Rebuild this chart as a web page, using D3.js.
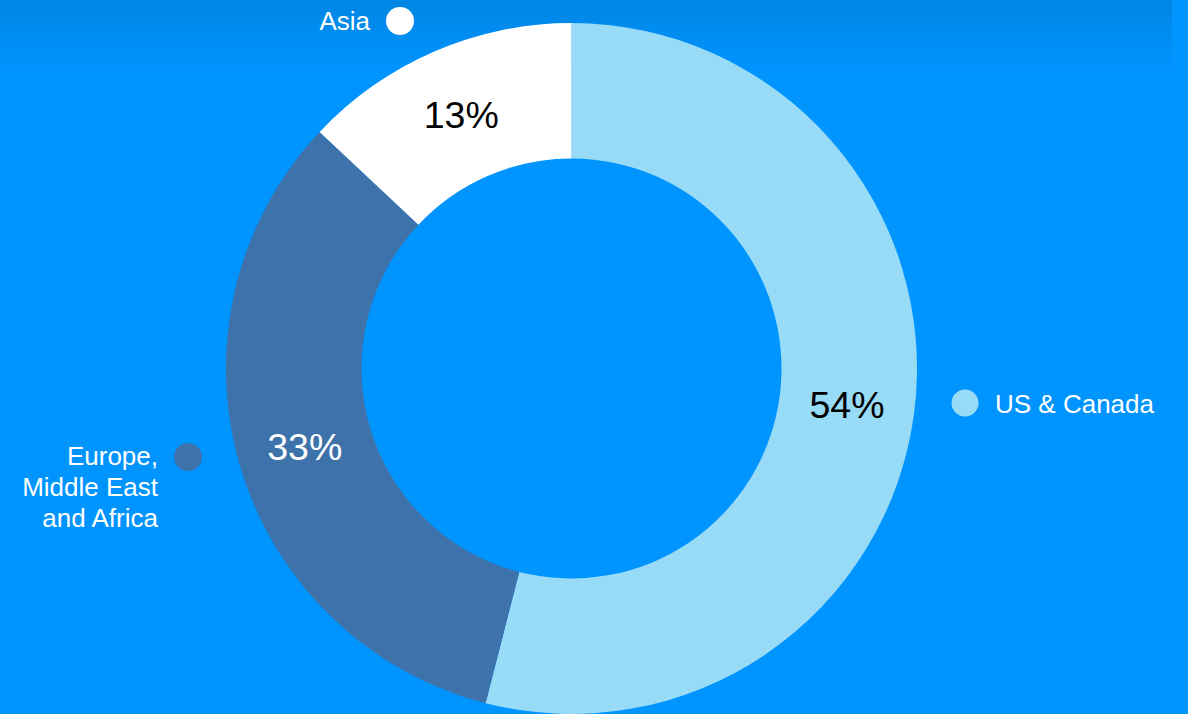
<!DOCTYPE html>
<html><head><meta charset="utf-8">
<script src="https://cdn.jsdelivr.net/npm/d3@7"></script>
<style>html,body{margin:0;padding:0;background:#0094ff;overflow:hidden}</style>
</head><body>
<svg id="c" width="1188" height="714"></svg>
<script>
const categories = ["US & Canada", "Europe, Middle East and Africa", "Asia"];
const values = [54, 33, 13];
const labels = ["54%", "33%", "13%"];
const colors = ["#97dbf7", "#3e72aa", "#ffffff"];
const labelColors = ["#000000", "#ffffff", "#000000"];

const svg = d3.select("#c");
const defs = svg.append("defs");
const g0 = defs.append("linearGradient").attr("id","topg").attr("x1",0).attr("y1",0).attr("x2",0).attr("y2",1);
g0.append("stop").attr("offset","0%").attr("stop-color","#0086e4");
g0.append("stop").attr("offset","100%").attr("stop-color","#0094ff");
svg.append("rect").attr("width",1188).attr("height",714).attr("fill","#0094ff");
svg.append("rect").attr("x",0).attr("y",0).attr("width",1172).attr("height",72).attr("fill","url(#topg)");

const cx = 571.5, cy = 368.5, R = 345.5, r = 210;
const pie = d3.pie().sort(null).value(d => d);
const arc = d3.arc().innerRadius(r).outerRadius(R);
const arcs = pie(values);
const font = "'Liberation Sans', Arial, sans-serif";
const g = svg.append("g").attr("transform", `translate(${cx},${cy})`);
g.selectAll("path").data(arcs).join("path").attr("d", arc).attr("fill", (d,i) => colors[i]);
g.selectAll("text").data(arcs).join("text")
  .attr("x", d => arc.centroid(d)[0]).attr("y", d => arc.centroid(d)[1])
  .attr("dy","0.38em").attr("text-anchor","middle")
  .attr("font-family",font).attr("font-size",37.5)
  .attr("fill", (d,i) => labelColors[i]).text((d,i) => labels[i]);

const fs = 26;
const leg = svg.append("g");
// US & Canada
leg.append("circle").attr("cx",965).attr("cy",403).attr("r",13.5).attr("fill",colors[0]);
leg.append("text").attr("x",995).attr("y",413).attr("font-family",font).attr("font-size",fs).attr("fill","#fff").text(categories[0]);
// Europe
leg.append("circle").attr("cx",188).attr("cy",457).attr("r",14).attr("fill",colors[1]);
const eLines = ["Europe,", "Middle East", "and Africa"];
const et = leg.append("text").attr("text-anchor","end").attr("font-family",font).attr("font-size",fs).attr("fill","#fff");
eLines.forEach((l,i) => et.append("tspan").attr("x",158).attr("y",465 + i*31).text(l));
// Asia
leg.append("circle").attr("cx",400).attr("cy",21).attr("r",14).attr("fill",colors[2]);
leg.append("text").attr("x",370).attr("y",30).attr("text-anchor","end").attr("font-family",font).attr("font-size",fs).attr("fill","#fff").text(categories[2]);
</script>
</body></html>
